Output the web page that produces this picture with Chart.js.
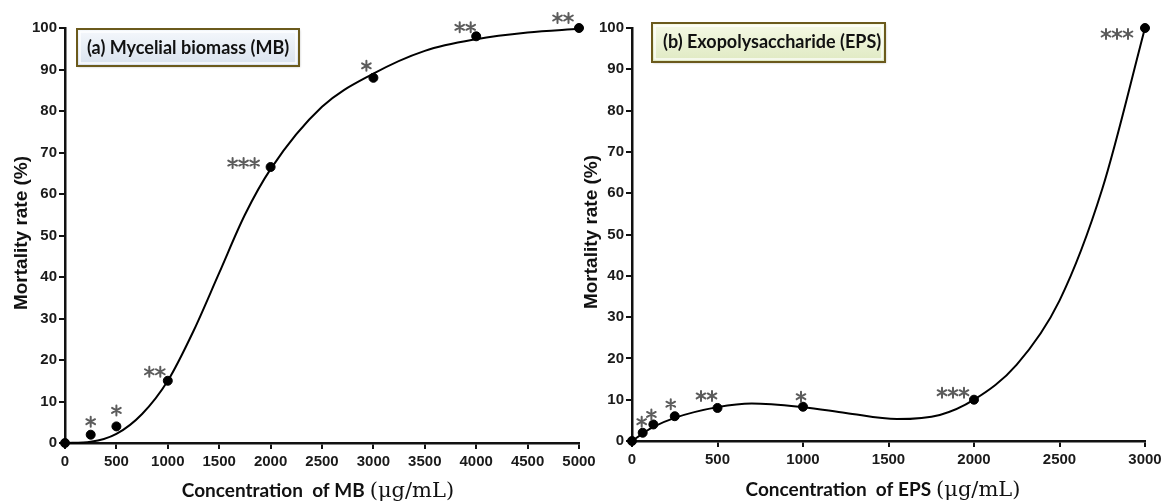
<!DOCTYPE html>
<html lang="en">
<head>
    <meta charset="UTF-8">
    <title>Mortality rate</title>
    <script src="https://cdn.jsdelivr.net/npm/chart.js"></script>
    <style>
        body { margin: 0; background: #fff; }
        .panel { position: absolute; top: 0; }
        #left-panel { left: 0; }
        #right-panel { left: 570px; }
    </style>
</head>
<body>
    <div class="panel" id="left-panel"><canvas id="mbChart" width="605" height="501"></canvas></div>
    <div class="panel" id="right-panel"><canvas id="epsChart" width="593" height="501"></canvas></div>

    <script>
        // (a) mycelial biomass
        const mbConc = [0, 250, 500, 1000, 2000, 3000, 4000, 5000];
        const mbMortality = [0, 2, 4, 15, 66.5, 88, 98, 100];
        const mbSig = ['', '*', '*', '**', '***', '*', '**', '**'];
        // fitted curve
        const mbFitConc = [0, 250, 500, 750, 1000, 1250, 1500, 1750, 2000, 2500, 3000, 3500, 4000, 4500, 5000];
        const mbFitMortality = [0, 0.3, 2.2, 7, 15, 27, 41, 55, 66, 81, 89, 94.5, 97.3, 98.9, 99.8];
        const mbTicks = [0, 500, 1000, 1500, 2000, 2500, 3000, 3500, 4000, 4500, 5000];

        // (b) exopolysaccharide
        const epsConc = [0, 62.5, 125, 250, 500, 1000, 2000, 3000];
        const epsMortality = [0, 2, 4, 6, 8, 8.3, 10, 100];
        const epsSig = ['', '*', '*', '*', '**', '*', '***', '***'];
        const epsFitConc = [0, 62.5, 125, 250, 500, 700, 1000, 1250, 1550, 1800, 2000, 2250, 2500, 2750, 3000];
        const epsFitMortality = [0, 1.8, 3.4, 5.6, 8.2, 9.1, 8.2, 6.8, 5.3, 6.3, 10, 18.5, 34, 61, 100];
        const epsTicks = [0, 500, 1000, 1500, 2000, 2500, 3000];

        const mortalityTicks = [0, 10, 20, 30, 40, 50, 60, 70, 80, 90, 100];

        // where the asterisks sit relative to each point (px)
        const mbSigOffset = [[0, 0], [0, -13], [0, -16], [-13, -9], [-27, -4], [-7, -12], [-11, -9], [-16, -10]];
        const epsSigOffset = [[0, 0], [-1, -11], [-2, -10], [-4, -12], [-11, -12], [-2, -10], [-21, -7], [-28, 6]];

        const tickFont = { family: 'Liberation Sans', size: 15, weight: 'bold' };

        function drawStar(ctx, cx, cy) {
            const r = 5;
            ctx.beginPath();
            for (let k = 0; k < 3; k++) {
                const a = Math.PI / 2 + k * Math.PI / 3;
                ctx.moveTo(cx - r * Math.cos(a), cy - r * Math.sin(a));
                ctx.lineTo(cx + r * Math.cos(a), cy + r * Math.sin(a));
            }
            ctx.stroke();
        }

        function makeChart(id, cfg) {
            const sigPlugin = {
                id: 'sig',
                afterDatasetsDraw(chart) {
                    const ctx = chart.ctx;
                    const meta = chart.getDatasetMeta(0);
                    ctx.save();
                    ctx.strokeStyle = '#5c5c5c';
                    ctx.lineWidth = 2;
                    ctx.lineCap = 'round';
                    meta.data.forEach((pt, i) => {
                        const n = cfg.sig[i].length;
                        if (!n) return;
                        const cx = pt.x + cfg.sigOffset[i][0];
                        const cy = pt.y + cfg.sigOffset[i][1];
                        for (let k = 0; k < n; k++) {
                            drawStar(ctx, cx + (k - (n - 1) / 2) * 11, cy);
                        }
                    });
                    ctx.restore();
                }
            };

            const decorPlugin = {
                id: 'decor',
                afterDraw(chart) {
                    const ctx = chart.ctx;
                    const b = cfg.box;
                    ctx.save();
                    // title box
                    ctx.shadowColor = 'rgba(0,0,0,0.25)';
                    ctx.shadowOffsetX = 1;
                    ctx.shadowOffsetY = 1;
                    ctx.shadowBlur = 2;
                    const g = ctx.createLinearGradient(0, b.y, 0, b.y + b.h);
                    g.addColorStop(0, b.top);
                    g.addColorStop(1, b.bottom);
                    ctx.fillStyle = g;
                    ctx.fillRect(b.x, b.y, b.w, b.h);
                    ctx.shadowColor = 'transparent';
                    ctx.strokeStyle = '#6b5a1c';
                    ctx.lineWidth = 2;
                    ctx.strokeRect(b.x, b.y, b.w, b.h);
                    ctx.strokeStyle = 'rgba(255,255,255,0.9)';
                    ctx.lineWidth = 1.5;
                    ctx.strokeRect(b.x + 3, b.y + 3, b.w - 6, b.h - 6);
                    ctx.fillStyle = '#111';
                    ctx.font = 'bold 18px Lato';
                    ctx.textBaseline = 'alphabetic';
                    ctx.textAlign = 'left';
                    ctx.fillText(b.text, b.tx, b.ty);

                    // y title
                    ctx.save();
                    ctx.translate(cfg.yTitle.x, cfg.yTitle.y);
                    ctx.rotate(-Math.PI / 2);
                    ctx.textAlign = 'center';
                    ctx.textBaseline = 'middle';
                    ctx.font = 'bold 19px "Liberation Sans"';
                    ctx.fillStyle = '#111';
                    ctx.fillText('Mortality rate (%)', 0, 0);
                    ctx.restore();

                    // x title: sans part + serif unit
                    ctx.font = 'bold 19px Lato';
                    const w1 = ctx.measureText(cfg.xTitle.text).width;
                    ctx.font = '21px "DejaVu Serif"';
                    const w2 = ctx.measureText('(μg/mL)').width;
                    let x0 = cfg.xTitle.x - (w1 + 5 + w2) / 2;
                    ctx.textAlign = 'left';
                    ctx.textBaseline = 'alphabetic';
                    ctx.font = 'bold 19px Lato';
                    ctx.fillText(cfg.xTitle.text, x0, cfg.xTitle.y);
                    ctx.font = '21px "DejaVu Serif"';
                    ctx.fillText('(μg/mL)', x0 + w1 + 5, cfg.xTitle.y);
                    ctx.restore();
                }
            };

            return new Chart(document.getElementById(id), {
                data: {
                    datasets: [{
                        type: 'scatter',
                        data: cfg.x.map((v, i) => ({ x: v, y: cfg.y[i] })),
                        backgroundColor: '#000',
                        borderColor: '#000',
                        pointRadius: 4.5,
                        pointHoverRadius: 4.5,
                        clip: false
                    }, {
                        type: 'line',
                        data: cfg.fitX.map((v, i) => ({ x: v, y: cfg.fitY[i] })),
                        borderColor: '#000',
                        borderWidth: 2,
                        pointRadius: 0,
                        cubicInterpolationMode: 'monotone',
                        fill: false,
                        clip: false
                    }]
                },
                options: {
                    responsive: false,
                    animation: false,
                    events: [],
                    layout: { padding: { top: 28, right: cfg.padRight, left: 0, bottom: 0 } },
                    plugins: { legend: { display: false }, tooltip: { enabled: false } },
                    scales: {
                        x: {
                            type: 'linear',
                            min: 0,
                            max: cfg.ticks[cfg.ticks.length - 1],
                            afterBuildTicks: s => { s.ticks = cfg.ticks.map(v => ({ value: v })); },
                            afterFit: s => { s.height = cfg.xHeight; s.paddingLeft = 0; s.paddingRight = 0; },
                            ticks: { font: tickFont, color: '#1a1a1a', padding: 4, maxRotation: 0, autoSkip: false,
                                     callback: v => String(v) },
                            grid: { drawOnChartArea: false, drawTicks: true, tickLength: 6, color: '#111', lineWidth: 2 },
                            border: { color: '#111', width: 2.5 }
                        },
                        y: {
                            min: 0,
                            max: 100,
                            afterBuildTicks: s => { s.ticks = mortalityTicks.map(v => ({ value: v })); },
                            afterFit: s => { s.width = cfg.yWidth; s.paddingTop = 0; s.paddingBottom = 0; },
                            ticks: { font: tickFont, color: '#1a1a1a', padding: 2, callback: v => String(v) },
                            grid: { drawOnChartArea: false, drawTicks: true, tickLength: 6, color: '#111', lineWidth: 2 },
                            border: { color: '#111', width: 2.5 }
                        }
                    }
                },
                plugins: [sigPlugin, decorPlugin]
            });
        }

        makeChart('mbChart', {
            x: mbConc, y: mbMortality, sig: mbSig, sigOffset: mbSigOffset,
            fitX: mbFitConc, fitY: mbFitMortality, ticks: mbTicks,
            yWidth: 65, xHeight: 58, padRight: 26,
            box: { x: 77, y: 29, w: 222, h: 37, top: '#f5f8fc', bottom: '#d9e2ee',
                   text: '(a) Mycelial biomass (MB)', tx: 87, ty: 54 },
            yTitle: { x: 22, y: 233 },
            xTitle: { text: 'Concentration  of MB', x: 318, y: 497 }
        });

        makeChart('epsChart', {
            x: epsConc, y: epsMortality, sig: epsSig, sigOffset: epsSigOffset,
            fitX: epsFitConc, fitY: epsFitMortality, ticks: epsTicks,
            yWidth: 62, xHeight: 60, padRight: 18,
            box: { x: 82, y: 23, w: 233, h: 39, top: '#f6fae6', bottom: '#dfe9c2',
                   text: '(b) Exopolysaccharide (EPS)', tx: 93, ty: 48 },
            yTitle: { x: 22, y: 232 },
            xTitle: { text: 'Concentration  of EPS', x: 313, y: 496 }
        });
    </script>
</body>
</html>
